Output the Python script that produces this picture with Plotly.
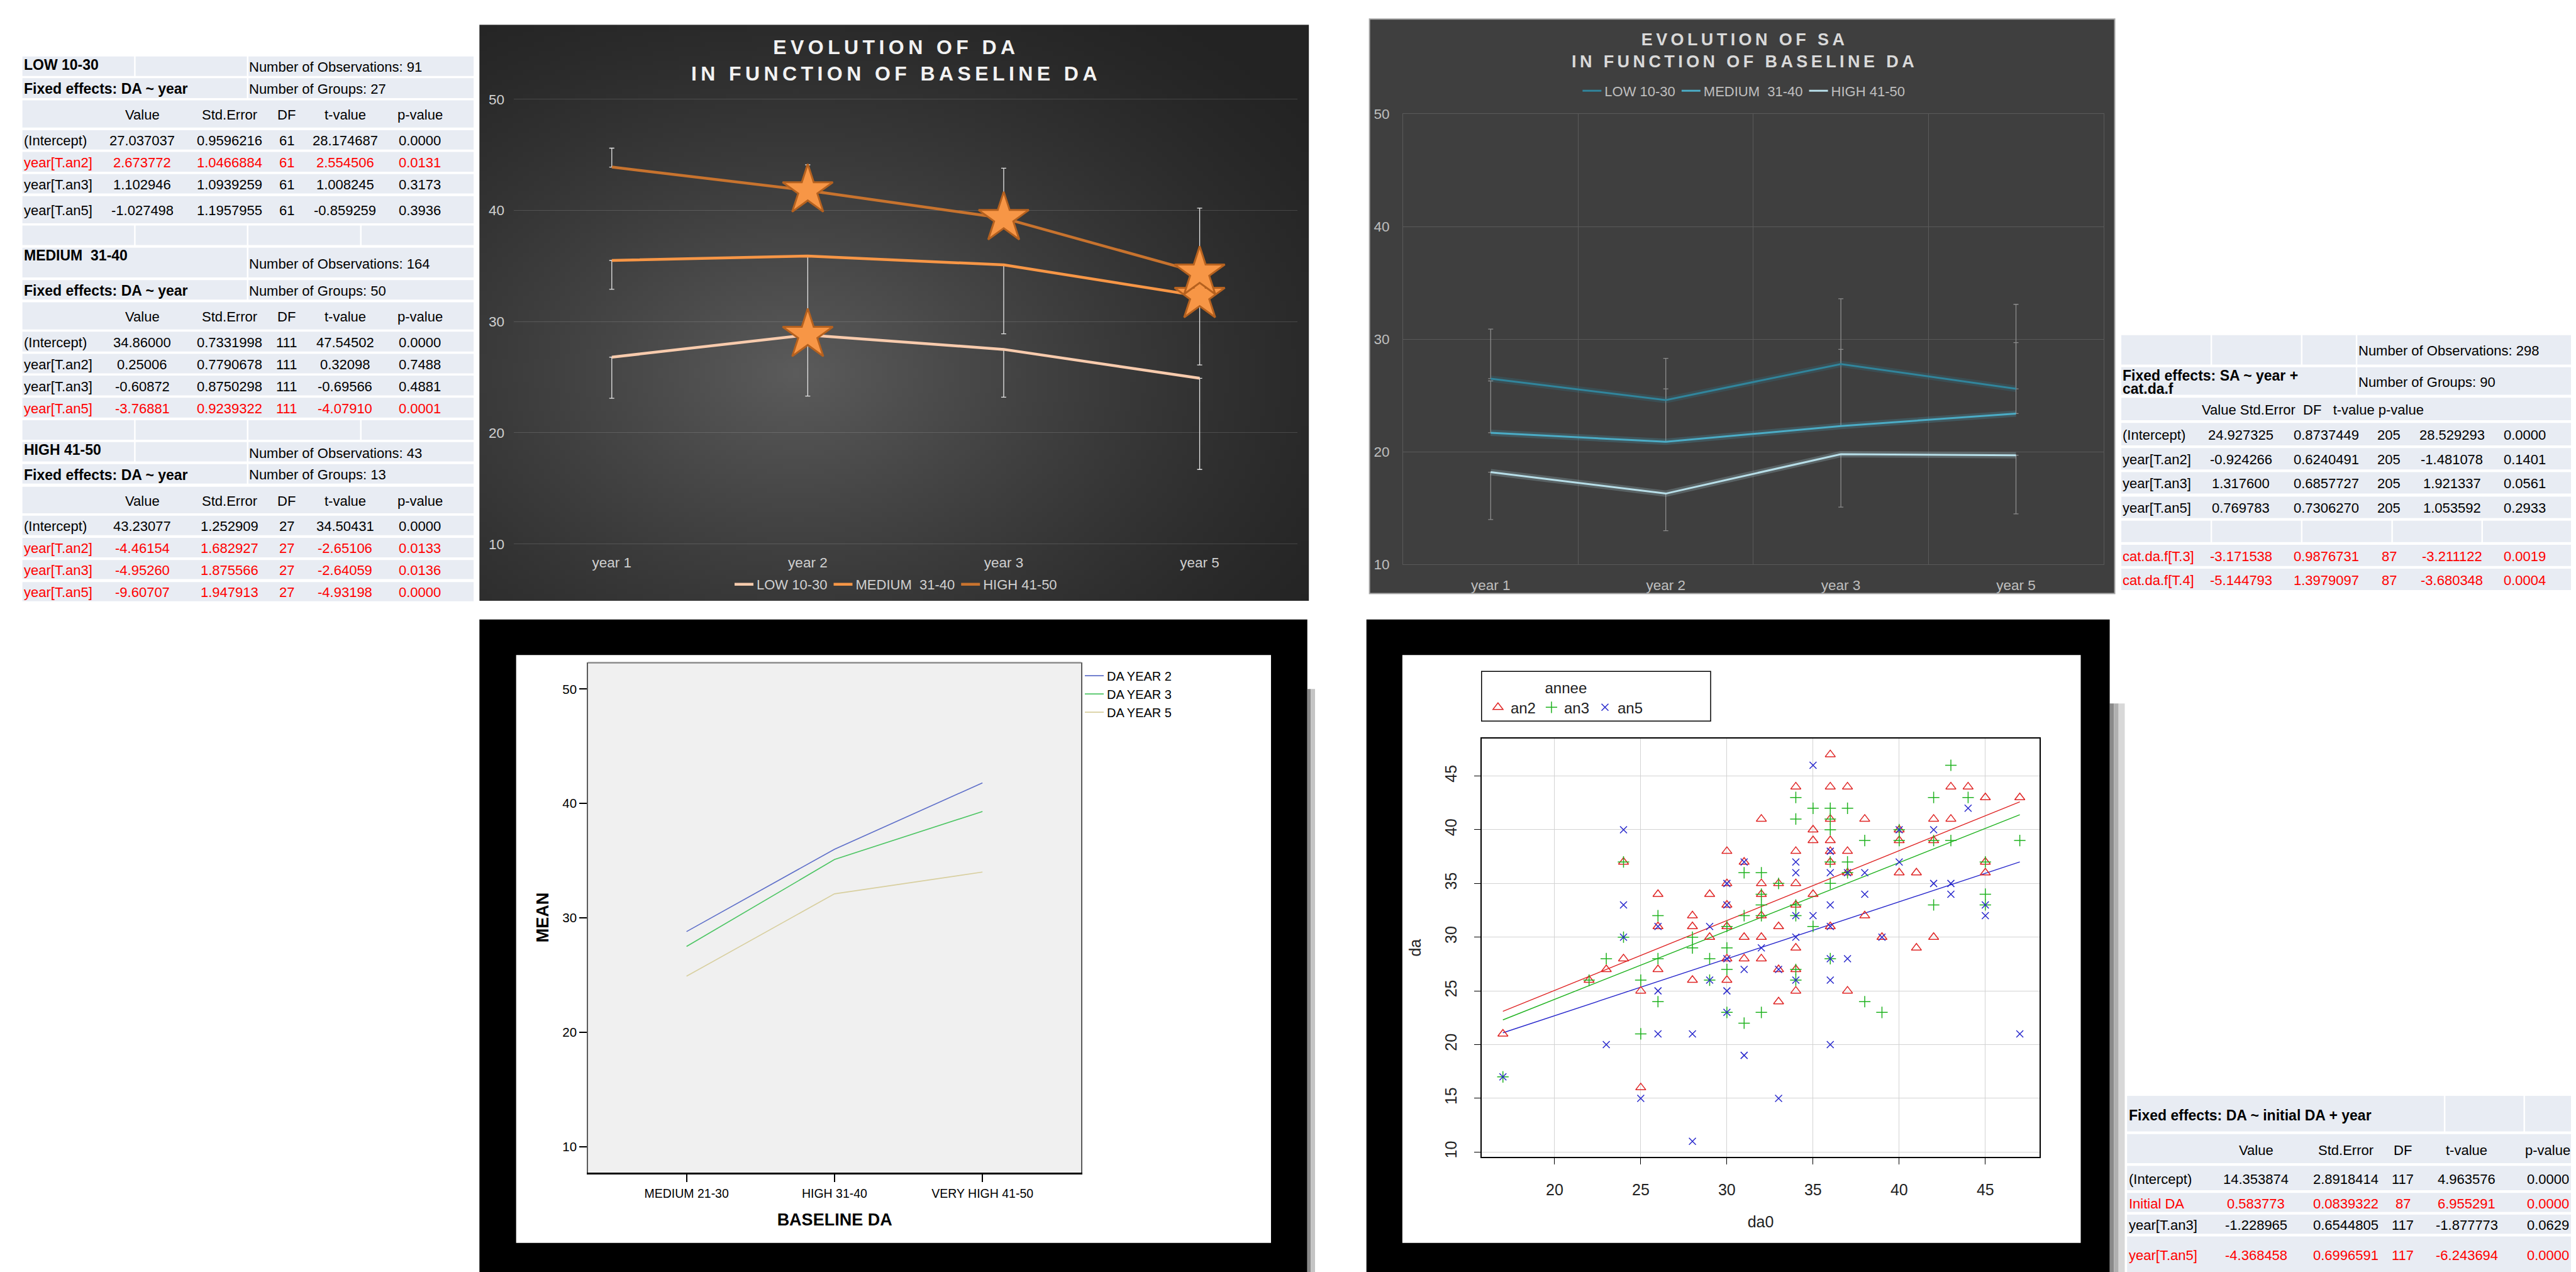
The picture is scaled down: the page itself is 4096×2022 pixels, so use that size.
import base64, struct, zlib
import numpy as np
import plotly.graph_objects as go

REF_W, REF_H = 6668, 3291
OUT_W, OUT_H = 4096, 2022
OFF = 8  # default page body margin in the browser
FONT = "Liberation Sans, Arial, Helvetica, sans-serif"


def X(v):
    return (v * OUT_W / REF_W - OFF) / OUT_W


def Y(v):
    return 1 - (v * OUT_H / REF_H - OFF) / OUT_H


# ------------------------------------------------------------------ data
years = ["year 1", "year 2", "year 3", "year 5"]

# Evolution of DA (means) by baseline group
da_low = [26.8, 28.8, 27.5, 24.9]
da_medium = [35.5, 35.9, 35.1, 32.3]
da_high = [43.9, 41.8, 39.3, 34.4]
da_low_err_minus = [3.7, 5.5, 4.3, 8.2]
da_medium_err_minus = [2.6, 5.7, 6.2, 6.2]
da_high_err_plus = [1.7, 2.3, 4.5, 5.8]
da_low_sig = [False, True, False, False]
da_medium_sig = [False, False, False, True]
da_high_sig = [False, True, True, True]

# Evolution of SA by baseline DA group
sa_low = [26.5, 24.6, 27.8, 25.6]
sa_medium = [21.7, 20.9, 22.3, 23.4]
sa_high = [18.2, 16.3, 19.8, 19.7]
sa_low_err_plus = [4.4, 3.7, 5.8, 7.5]
sa_medium_err_plus = [4.6, 4.7, 6.8, 6.3]
sa_high_err_minus = [4.2, 3.3, 4.7, 5.2]

group_names = ["LOW 10-30", "MEDIUM\u00a0 31-40", "HIGH 41-50"]

# SPSS profile plot
baseline_cats = ["MEDIUM 21-30", "HIGH 31-40", "VERY HIGH 41-50"]
mean_year2 = [28.8, 36.0, 41.8]
mean_year3 = [27.5, 35.1, 39.3]
mean_year5 = [24.9, 32.1, 34.0]

# scatter da vs da0
an2_da0 = [17, 22, 23, 24, 24, 25, 25, 26, 26, 26, 28, 28, 28, 29, 29, 30, 30, 30, 30, 30, 30,
           31, 31, 31, 32, 32, 32, 32, 32, 32, 33, 33, 33, 33, 34, 34, 34, 34, 34, 34, 34,
           35, 35, 35, 36, 36, 36, 36, 36, 36, 36, 37, 37, 37, 37, 38, 38, 39, 40, 40, 40,
           41, 41, 42, 42, 42, 43, 43, 44, 45, 45, 45, 47]
an2_da = [21, 26, 27, 37, 28, 25, 16, 34, 31, 27, 32, 31, 26, 34, 30, 38, 35, 33, 31, 28, 26,
          37, 30, 28, 41, 35, 34, 32, 30, 28, 35, 31, 27, 24, 44, 38, 35, 33, 29, 27, 25,
          40, 39, 34, 47, 44, 41, 39, 38, 37, 31, 44, 38, 36, 25, 41, 32, 30, 40, 39, 36,
          36, 29, 41, 39, 30, 44, 41, 44, 43, 37, 36, 43]
an3_da0 = [17, 22, 23, 24, 24, 25, 25, 26, 26, 26, 28, 28, 29, 29, 30, 30, 30, 30, 31, 31, 31,
           32, 32, 32, 32, 32, 33, 34, 34, 34, 34, 34, 34, 35, 35, 36, 36, 36, 36, 36, 36,
           37, 37, 37, 38, 38, 39, 40, 40, 42, 42, 42, 43, 43, 44, 45, 45, 45, 47]
an3_da = [17, 26, 28, 37, 30, 26, 21, 32, 28, 24, 30, 29, 28, 26, 31, 29, 27, 23, 36, 32, 22,
          36, 34, 33, 32, 23, 35, 43, 41, 33, 32, 27, 26, 42, 31, 42, 41, 40, 37, 35, 28,
          42, 37, 36, 39, 24, 23, 40, 39, 43, 39, 33, 46, 39, 43, 37, 34, 33, 39]
an5_da0 = [17, 23, 24, 24, 24, 25, 26, 26, 26, 28, 28, 29, 29, 30, 30, 30, 30, 30, 31, 31, 31,
           32, 33, 33, 34, 34, 34, 34, 34, 35, 35, 36, 36, 36, 36, 36, 36, 36, 37, 37, 38, 38,
           39, 40, 40, 42, 42, 43, 43, 44, 45, 45, 47]
an5_da = [17, 20, 40, 33, 30, 15, 31, 25, 21, 21, 11, 31, 26, 35, 33, 28, 25, 23, 37, 27, 19,
          29, 27, 15, 37, 36, 32, 30, 26, 46, 32, 38, 36, 33, 31, 28, 26, 20, 36, 28, 36, 34,
          30, 40, 37, 40, 35, 35, 34, 42, 33, 32, 21]
fit_da0 = [17, 47]
fit_an2 = [23.1, 42.6]
fit_an3 = [22.3, 41.4]
fit_an5 = [21.1, 37.0]

# model tables
table_header = ["Value", "Std.Error", "DF", "t-value", "p-value"]
low_table = [("(Intercept)", "27.037037", "0.9596216", "61", "28.174687", "0.0000"),
             ("year[T.an2]", "2.673772", "1.0466884", "61", "2.554506", "0.0131"),
             ("year[T.an3]", "1.102946", "1.0939259", "61", "1.008245", "0.3173"),
             ("year[T.an5]", "-1.027498", "1.1957955", "61", "-0.859259", "0.3936")]
low_red = [False, True, False, False]
medium_table = [("(Intercept)", "34.86000", "0.7331998", "111", "47.54502", "0.0000"),
                ("year[T.an2]", "0.25006", "0.7790678", "111", "0.32098", "0.7488"),
                ("year[T.an3]", "-0.60872", "0.8750298", "111", "-0.69566", "0.4881"),
                ("year[T.an5]", "-3.76881", "0.9239322", "111", "-4.07910", "0.0001")]
medium_red = [False, False, False, True]
high_table = [("(Intercept)", "43.23077", "1.252909", "27", "34.50431", "0.0000"),
              ("year[T.an2]", "-4.46154", "1.682927", "27", "-2.65106", "0.0133"),
              ("year[T.an3]", "-4.95260", "1.875566", "27", "-2.64059", "0.0136"),
              ("year[T.an5]", "-9.60707", "1.947913", "27", "-4.93198", "0.0000")]
high_red = [False, True, True, True]
left_titles = ["LOW 10-30", "MEDIUM\u00a0 31-40", "HIGH 41-50"]
left_obs = ["Number of Observations: 91", "Number of Observations: 164", "Number of Observations: 43"]
left_groups = ["Number of Groups: 27", "Number of Groups: 50", "Number of Groups: 13"]
left_formula = "Fixed effects: DA ~ year"

sa_table = [("(Intercept)", "24.927325", "0.8737449", "205", "28.529293", "0.0000"),
            ("year[T.an2]", "-0.924266", "0.6240491", "205", "-1.481078", "0.1401"),
            ("year[T.an3]", "1.317600", "0.6857727", "205", "1.921337", "0.0561"),
            ("year[T.an5]", "0.769783", "0.7306270", "205", "1.053592", "0.2933"),
            ("cat.da.f[T.3]", "-3.171538", "0.9876731", "87", "-3.211122", "0.0019"),
            ("cat.da.f[T.4]", "-5.144793", "1.3979097", "87", "-3.680348", "0.0004")]
sa_red = [False, False, False, False, True, True]

init_table = [("(Intercept)", "14.353874", "2.8918414", "117", "4.963576", "0.0000"),
              ("Initial DA", "0.583773", "0.0839322", "87", "6.955291", "0.0000"),
              ("year[T.an3]", "-1.228965", "0.6544805", "117", "-1.877773", "0.0629"),
              ("year[T.an5]", "-4.368458", "0.6996591", "117", "-6.243694", "0.0000")]
init_red = [False, True, False, True]

# ------------------------------------------------------------------ helpers
shapes, annotations, images = [], [], []


def rect(x0, y0, x1, y1, fill, line=None, lw=0):
    shapes.append(dict(type="rect", xref="paper", yref="paper", x0=X(x0), x1=X(x1),
                       y0=Y(y1), y1=Y(y0), fillcolor=fill,
                       line=dict(color=line or "rgba(0,0,0,0)", width=lw), layer="below"))


def txt(x, y, s, size=22, color="#000000", xanchor="left", bold=False):
    annotations.append(dict(x=X(x), y=Y(y), xref="paper", yref="paper",
                            text=f"<b>{s}</b>" if bold else s, showarrow=False,
                            xanchor=xanchor, yanchor="middle",
                            font=dict(size=size, color=color, family=FONT)))


CELL = "#E8ECF3"


def row_cells(y0, y1, xs, gap=4):
    for i in range(len(xs) - 1):
        a = xs[i] + (gap / 2 if i > 0 else 0)
        b = xs[i + 1] - (gap / 2 if i < len(xs) - 2 else 0)
        rect(a, y0 + gap / 2, b, y1 - gap / 2, CELL)


def spaced(s):
    return "\u2009".join(s)


def gradient_png(w, h):
    yy, xx = np.mgrid[0:h, 0:w]
    cx, cy = 0.38 * w, 0.6 * h
    r = np.sqrt(((xx - cx) / (0.8 * w)) ** 2 + ((yy - cy) / (0.8 * h)) ** 2)
    r = np.clip(r, 0, 1)
    v = 35 + (92 - 35) * (1 - r) ** 1.4
    img = np.stack([v, v, v], axis=-1).astype(np.uint8)
    raw = b"".join(b"\x00" + img[i].tobytes() for i in range(h))

    def chunk(t, d):
        return struct.pack(">I", len(d)) + t + d + struct.pack(">I", zlib.crc32(t + d) & 0xffffffff)

    png = (b"\x89PNG\r\n\x1a\n" + chunk(b"IHDR", struct.pack(">IIBBBBB", w, h, 8, 2, 0, 0, 0))
           + chunk(b"IDAT", zlib.compress(raw, 9)) + chunk(b"IEND", b""))
    return "data:image/png;base64," + base64.b64encode(png).decode()


fig = go.Figure()

# ------------------------------------------------------------------ left tables
LCOLS = [368, 595, 742, 893, 1087]
left_geom = [
    dict(title_row=(126, 181), split=[58, 349, 641, 1226], ty=150, oy=156, fixed=(183, 239),
         header=(241, 316), rows=[(319, 374), (376, 432), (434, 489), (492, 567)], empty=(569, 624)),
    dict(title_row=(627, 709), split=[58, 641, 1226], ty=649, oy=671, fixed=(712, 767),
         header=(770, 845), rows=[(847, 903), (905, 960), (962, 1018), (1020, 1076)], empty=(1079, 1134)),
    dict(title_row=(1136, 1191), split=[58, 349, 641, 1226], ty=1158, oy=1167, fixed=(1194, 1249),
         header=(1253, 1327), rows=[(1329, 1384), (1387, 1442), (1445, 1499), (1503, 1557)], empty=None),
]
left_data = [(low_table, low_red), (medium_table, medium_red), (high_table, high_red)]
for k, g in enumerate(left_geom):
    tbl, red = left_data[k]
    row_cells(*g["title_row"], g["split"])
    row_cells(*g["fixed"], [58, 641, 1226])
    row_cells(*g["header"], [58, 1226])
    for r in g["rows"]:
        row_cells(*r, [58, 1226])
    if g["empty"]:
        row_cells(*g["empty"], [58, 349, 641, 934, 1226])
    txt(58, g["ty"], left_titles[k], 23, bold=True)
    txt(642, g["oy"], left_obs[k], 22)
    fy = (g["fixed"][0] + g["fixed"][1]) / 2 + 2
    txt(58, fy, left_formula, 23, bold=True)
    txt(642, fy, left_groups[k], 22)
    hy = (g["header"][0] + g["header"][1]) / 2 + 3
    for c, h in zip(LCOLS, table_header):
        txt(c, hy, h, 22, xanchor="center")
    for (r0, r1), row, isred in zip(g["rows"], tbl, red):
        col = "#FF0000" if isred else "#000000"
        ry = (r0 + r1) / 2 + 2
        txt(58, ry, row[0], 22, col)
        for c, v in zip(LCOLS, row[1:]):
            txt(c, ry, v, 22, col, xanchor="center")

# ------------------------------------------------------------------ right table (SA)
RX = [5491, 5724, 5958, 6192, 6425, 6658]
row_cells(856, 937, [5491, 5724, 5958, 6100, 6658])
row_cells(940, 1016, [5491, 6100, 6658])
row_cells(1020, 1083, [5491, 6658])
sa_rows = [(1086, 1149), (1152, 1212), (1215, 1275), (1279, 1339), (1405, 1465), (1468, 1528)]
for r in sa_rows:
    row_cells(*r, [5491, 6658])
row_cells(1342, 1402, RX)
txt(6102, 899, "Number of Observations: 298", 22)
txt(5491, 964, "Fixed effects: SA ~ year +", 23, bold=True)
txt(5491, 999, "cat.da.f", 23, bold=True)
txt(6102, 981, "Number of Groups: 90", 22)
txt(5696, 1054, "Value Std.Error\u00a0 DF\u00a0\u00a0 t-value p-value", 22)
SCOLS = [5801, 6021, 6184, 6347, 6536]
for (r0, r1), row, isred in zip(sa_rows, sa_table, sa_red):
    col = "#FF0000" if isred else "#000000"
    ry = (r0 + r1) / 2 + 2
    txt(5491, ry, row[0], 22, col)
    for c, v in zip(SCOLS, row[1:]):
        txt(c, ry, v, 22, col, xanchor="center")

# ------------------------------------------------------------------ bottom-right table
row_cells(2849, 2946, [5506, 6328, 6534, 6700])
row_cells(2949, 3029, [5506, 6700])
init_rows = [(3032, 3100), (3103, 3157), (3160, 3214), (3217, 3320)]
for r in init_rows:
    row_cells(*r, [5506, 6700])
txt(5507, 2902, "Fixed effects: DA ~ initial DA + year", 23, bold=True)
ICOLS = [5840, 6072, 6220, 6385, 6595]
for c, h in zip(ICOLS, table_header):
    txt(c, 2993, h, 22, xanchor="center")
init_ty = [3069, 3133, 3190, 3268]
for ry, row, isred in zip(init_ty, init_table, init_red):
    col = "#FF0000" if isred else "#000000"
    txt(5507, ry, row[0], 22, col)
    for c, v in zip(ICOLS, row[1:]):
        txt(c, ry, v, 22, col, xanchor="center")
# frame shadow next to bottom-right table / scatter frame
rect(5461, 1823, 5472, 3320, "#8a8a8a")
rect(5472, 1823, 5484, 3320, "#b0b0b0")
rect(5484, 1823, 5500, 3320, "#d8d8d8")

# ------------------------------------------------------------------ chart 1 : Evolution of DA
images.append(dict(source=gradient_png(160, 120), xref="paper", yref="paper", x=X(1241), y=Y(45),
                   sizex=X(3388) - X(1241), sizey=Y(45) - Y(1554), sizing="stretch",
                   layer="below", xanchor="left", yanchor="top"))
annotations.append(dict(x=X(2314), y=Y(138), xref="paper", yref="paper", showarrow=False,
                        text="<b>" + spaced("EVOLUTION OF DA") + "<br>" + spaced("IN FUNCTION OF BASELINE DA") + "</b>",
                        font=dict(size=32, color="#F2F2F2", family=FONT), xanchor="center", yanchor="middle"))

da_colors = ["#F8CBAD", "#F79646", "#C8732E"]
da_vals = [da_low, da_medium, da_high]
da_plus = [[0] * 4, [0] * 4, da_high_err_plus]
da_minus = [da_low_err_minus, da_medium_err_minus, [0] * 4]
da_sig = [da_low_sig, da_medium_sig, da_high_sig]
for name, vals, p, m, colr in zip(group_names, da_vals, da_plus, da_minus, da_colors):
    fig.add_trace(go.Scatter(x=years, y=vals, mode="markers", xaxis="x", yaxis="y",
                             marker=dict(size=1, color="rgba(0,0,0,0)"), showlegend=False, hoverinfo="skip",
                             error_y=dict(type="data", symmetric=False, array=p, arrayminus=m,
                                          color="#E6E6E6", thickness=1.3, width=4)))
for name, vals, colr in zip(group_names, da_vals, da_colors):
    fig.add_trace(go.Scatter(x=years, y=vals, mode="lines", name=name, xaxis="x", yaxis="y",
                             line=dict(color=colr, width=4.5), legend="legend"))
for vals, sig in zip(da_vals, da_sig):
    fig.add_trace(go.Scatter(x=[yv for yv, s in zip(years, sig) if s],
                             y=[v for v, s in zip(vals, sig) if s], mode="markers",
                             xaxis="x", yaxis="y", showlegend=False,
                             marker=dict(symbol="star", size=60, color="#F79646",
                                         line=dict(color="#B5611F", width=3))))

# ------------------------------------------------------------------ chart 2 : Evolution of SA
rect(3545, 30, 5474, 1535, "#3F3F3F", "#A6A6A6", 2)
annotations.append(dict(x=X(4511), y=Y(113), xref="paper", yref="paper", showarrow=False,
                        text="<b>" + spaced("EVOLUTION OF SA") + "<br>" + spaced("IN FUNCTION OF BASELINE DA") + "</b>",
                        font=dict(size=27, color="#D9D9D9", family=FONT), xanchor="center", yanchor="middle"))
sa_colors = ["#31859C", "#4BACC6", "#B7DEE8"]
sa_vals = [sa_low, sa_medium, sa_high]
sa_plus = [sa_low_err_plus, sa_medium_err_plus, [0] * 4]
sa_minus = [[0] * 4, [0] * 4, sa_high_err_minus]
for vals, p, m in zip(sa_vals, sa_plus, sa_minus):
    fig.add_trace(go.Scatter(x=years, y=vals, mode="markers", xaxis="x2", yaxis="y2",
                             marker=dict(size=1, color="rgba(0,0,0,0)"), showlegend=False, hoverinfo="skip",
                             error_y=dict(type="data", symmetric=False, array=p, arrayminus=m,
                                          color="#8C8C8C", thickness=1.3, width=4)))
for name, vals, colr in zip(group_names, sa_vals, sa_colors):
    fig.add_trace(go.Scatter(x=years, y=vals, mode="lines", xaxis="x2", yaxis="y2", showlegend=False,
                             line=dict(color=colr, width=10), opacity=0.22, hoverinfo="skip"))
    fig.add_trace(go.Scatter(x=years, y=vals, mode="lines", name=name, xaxis="x2", yaxis="y2",
                             line=dict(color=colr, width=3), legend="legend2"))

# ------------------------------------------------------------------ chart 3 : SPSS profile plot
rect(1241, 1603, 3384, 3320, "#000000")
rect(1336, 1696, 3290, 3236, "#FFFFFF")
rect(1522, 1715, 2799, 3052, "#F0F0F0")
rect(3384, 1785, 3393, 3320, "#8a8a8a")
rect(3393, 1785, 3404, 3320, "#c4c4c4")
shapes.append(dict(type="line", xref="paper", yref="paper", x0=X(1522), x1=X(2799), y0=Y(1716), y1=Y(1716),
                   line=dict(color="#8C8C8C", width=2.5), layer="above"))
prof_colors = ["#5E6FC9", "#4CC563", "#D8CF9F"]
for name, vals, colr in zip(["DA YEAR 2", "DA YEAR 3", "DA YEAR 5"], [mean_year2, mean_year3, mean_year5], prof_colors):
    fig.add_trace(go.Scatter(x=[0, 1, 2], y=vals, mode="lines", name=name, xaxis="x3", yaxis="y3",
                             line=dict(color=colr, width=1.6), legend="legend3"))

# ------------------------------------------------------------------ chart 4 : scatter
rect(3537, 1603, 5461, 3320, "#000000")
rect(3630, 1696, 5386, 3236, "#FFFFFF")
rect(3835, 1739, 4428, 1869, "rgba(0,0,0,0)", "#000000", 1.5)
sc_groups = [("an2", an2_da0, an2_da, "triangle-up-open", "#DF2424", fit_an2, 14),
             ("an3", an3_da0, an3_da, "cross-thin-open", "#1FB21F", fit_an3, 13),
             ("an5", an5_da0, an5_da, "x-thin-open", "#2828CC", fit_an5, 11)]
for name, xs, ys, sym, colr, fit, sz in sc_groups:
    fig.add_trace(go.Scatter(x=fit_da0, y=fit, mode="lines", xaxis="x4", yaxis="y4", showlegend=False,
                             line=dict(color=colr, width=1.4), hoverinfo="skip"))
for name, xs, ys, sym, colr, fit, sz in sc_groups:
    fig.add_trace(go.Scatter(x=xs, y=ys, mode="markers", name=name, xaxis="x4", yaxis="y4",
                             legend="legend4",
                             marker=dict(symbol=sym, size=sz, color=colr, line=dict(color=colr, width=1.5))))

# ------------------------------------------------------------------ layout
dark_tick = dict(size=22.5, color="#D0D0D0", family=FONT)
fig.update_layout(
    width=OUT_W, height=OUT_H, margin=dict(l=0, r=0, t=0, b=0),
    paper_bgcolor="#FFFFFF", plot_bgcolor="rgba(0,0,0,0)",
    font=dict(family=FONT),
    shapes=shapes, annotations=annotations, images=images,
    xaxis=dict(domain=[X(1330), X(3359)], anchor="y", type="category", categoryorder="array",
               categoryarray=years, range=[-0.5, 3.5], showgrid=False, zeroline=False, showline=False,
               tickfont=dark_tick, ticks="", ticklabelstandoff=10),
    yaxis=dict(domain=[Y(1410.8), Y(234.2)], anchor="x", range=[9.8, 50.2], tickvals=[10, 20, 30, 40, 50],
               gridcolor="rgba(255,255,255,0.14)", gridwidth=1.2, zeroline=False, showline=False,
               tickfont=dark_tick, ticks="", ticklabelstandoff=14),
    xaxis2=dict(domain=[X(3632), X(5445)], anchor="y2", type="category", categoryorder="array",
                categoryarray=years, range=[-0.5, 3.5], tickson="boundaries", showgrid=True,
                gridcolor="#5A5A5A", gridwidth=1.2, zeroline=False, showline=True, mirror=True,
                linecolor="#5A5A5A", linewidth=1.2, ticks="", ticklabelstandoff=12,
                tickfont=dict(size=22.5, color="#BFBFBF", family=FONT)),
    yaxis2=dict(domain=[Y(1459), Y(278.5)], anchor="x2", range=[10, 50], tickvals=[10, 20, 30, 40, 50],
                gridcolor="#5A5A5A", gridwidth=1.2, zeroline=False, showline=True, mirror=True,
                linecolor="#5A5A5A", linewidth=1.2, ticks="", ticklabelstandoff=16,
                tickfont=dict(size=22.5, color="#BFBFBF", family=FONT)),
    xaxis3=dict(domain=[X(1522), X(2799)], anchor="y3", range=[-0.666, 2.668], tickvals=[0, 1, 2],
                ticktext=baseline_cats, showgrid=False, zeroline=False, showline=True, linecolor="#000000",
                linewidth=2.5, ticks="outside", ticklen=12, tickwidth=1.5, tickcolor="#000000",
                ticklabelstandoff=2, tickfont=dict(size=19.5, color="#000000", family=FONT),
                title=dict(text="<b>BASELINE DA</b>", font=dict(size=27, color="#000000", family=FONT), standoff=22)),
    yaxis3=dict(domain=[Y(3052), Y(1715)], anchor="x3", range=[7.73, 52.34], tickvals=[10, 20, 30, 40, 50],
                showgrid=False, zeroline=False, showline=True, mirror=True, linecolor="#5A5A5A", linewidth=1.5,
                ticks="outside", ticklen=12, tickwidth=1.5, tickcolor="#000000",
                tickfont=dict(size=20.5, color="#000000", family=FONT),
                title=dict(text="<b>MEAN</b>", font=dict(size=27, color="#000000", family=FONT), standoff=14)),
    xaxis4=dict(domain=[X(3835), X(5280)], anchor="y4", range=[15.76, 48.16], tickvals=[20, 25, 30, 35, 40, 45],
                showgrid=True, gridcolor="#D3D3D3", gridwidth=1.2, zeroline=False, showline=True, mirror=True,
                linecolor="#000000", linewidth=1.5, ticks="outside", ticklen=10, tickcolor="#000000",
                ticklabelstandoff=19, tickfont=dict(size=25, color="#222222", family=FONT),
                title=dict(text="da0", font=dict(size=25, color="#222222", family=FONT), standoff=30)),
    yaxis4=dict(domain=[Y(3011), Y(1915)], anchor="x4", range=[9.54, 48.48],
                tickvals=[10, 15, 20, 25, 30, 35, 40, 45], tickangle=-90,
                showgrid=True, gridcolor="#D3D3D3", gridwidth=1.2, zeroline=False, showline=True, mirror=True,
                linecolor="#000000", linewidth=1.5, ticks="outside", ticklen=10, tickcolor="#000000",
                ticklabelstandoff=18, tickfont=dict(size=25, color="#222222", family=FONT),
                title=dict(text="da", font=dict(size=25, color="#222222", family=FONT), standoff=26)),
    legend=dict(orientation="h", x=X(2319), xanchor="center", y=Y(1511), yanchor="middle",
                bgcolor="rgba(0,0,0,0)", font=dict(size=22, color="#D0D0D0", family=FONT)),
    legend2=dict(orientation="h", x=X(4514), xanchor="center", y=Y(218), yanchor="middle",
                 bgcolor="rgba(0,0,0,0)", font=dict(size=22, color="#BFBFBF", family=FONT)),
    legend3=dict(orientation="v", x=X(2800), xanchor="left", y=Y(1718), yanchor="top",
                 bgcolor="rgba(0,0,0,0)", font=dict(size=20, color="#000000", family=FONT), tracegroupgap=0),
    legend4=dict(orientation="h", x=X(3845), xanchor="left", y=Y(1745), yanchor="top",
                 bgcolor="rgba(0,0,0,0)", font=dict(size=24, color="#222222", family=FONT),
                 title=dict(text="annee", side="top center", font=dict(size=24, color="#222222", family=FONT))),
)

fig.write_html("out.html")
